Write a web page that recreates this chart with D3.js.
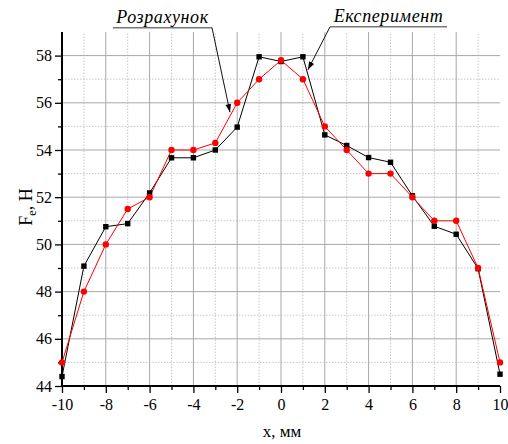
<!DOCTYPE html>
<html>
<head>
<meta charset="utf-8">
<script src="https://cdn.jsdelivr.net/npm/d3@7"></script>
<style>
  body { margin: 0; background: #fff; }
  svg { display: block; }
  svg text { font-family: "Liberation Serif", "Times New Roman", serif; }
</style>
</head>
<body>
<svg id="chart"></svg>
<script>
// x positions, mm
const xs = [-10, -9, -8, -7, -6, -5, -4, -3, -2, -1, 0, 1, 2, 3, 4, 5, 6, 7, 8, 9, 10];
// Експеримент (black squares)
const experiment = [44.4, 49.08, 50.75, 50.88, 52.18, 53.67, 53.67, 54.0, 54.97, 57.95, 57.75,
                    57.95, 54.64, 54.19, 53.68, 53.48, 52.06, 50.77, 50.43, 48.97, 44.5];
// Розрахунок (red circles)
const calculation = [45.0, 48.0, 50.0, 51.5, 52.0, 54.0, 54.0, 54.3, 56.0, 57.0, 57.8,
                     57.0, 55.0, 54.0, 53.0, 53.0, 52.0, 51.0, 51.0, 49.0, 45.0];

const xTicks = [-10, -8, -6, -4, -2, 0, 2, 4, 6, 8, 10];
const yTicks = [44, 46, 48, 50, 52, 54, 56, 58];

// annotation anchors in data coordinates: [text start, elbow, arrow tip]
const notes = [
    { label: "Розрахунок", start: [-7.67, 59.18], elbow: [-3.15, 59.18], tip: [-2.33, 55.6] },
    { label: "Експеримент", start: [7.58, 59.22], elbow: [2.24, 59.22], tip: [1.23, 57.4] },
];

const FONT = '"Liberation Serif", "Times New Roman", serif';
const width = 508, height = 444;
const margin = { top: 32, right: 8, bottom: 58, left: 62 };

const svg = d3.select('#chart')
    .attr('width', width)
    .attr('height', height);

const x = d3.scaleLinear().domain([-10, 10]).range([margin.left, width - margin.right]);
const y = d3.scaleLinear().domain([44, 59]).range([height - margin.bottom, margin.top]);

// Grid: minor dotted, major solid
const grid = svg.append('g');
const xMinor = d3.range(-9, 10, 2);
const yMinor = d3.range(45, 59, 2);

grid.selectAll('.xminor').data(xMinor).join('line')
    .attr('x1', d => x(d)).attr('x2', d => x(d))
    .attr('y1', y(44)).attr('y2', y(59))
    .attr('stroke', '#c8c8c8').attr('stroke-dasharray', '1.5,1.5');
grid.selectAll('.yminor').data(yMinor).join('line')
    .attr('y1', d => y(d)).attr('y2', d => y(d))
    .attr('x1', x(-10)).attr('x2', x(10))
    .attr('stroke', '#c8c8c8').attr('stroke-dasharray', '1.5,1.5');
grid.selectAll('.xmajor').data(xTicks.slice(1, -1)).join('line')
    .attr('x1', d => x(d)).attr('x2', d => x(d))
    .attr('y1', y(44)).attr('y2', y(59))
    .attr('stroke', '#a8a8a8');
grid.selectAll('.ymajor').data(yTicks.slice(1)).join('line')
    .attr('y1', d => y(d)).attr('y2', d => y(d))
    .attr('x1', x(-10)).attr('x2', x(10))
    .attr('stroke', '#a8a8a8');

// Axes
const xAxis = svg.append('g')
    .attr('transform', `translate(0,${y(44)})`)
    .call(d3.axisBottom(x).tickValues(xTicks).tickSize(7).tickPadding(6).tickFormat(d3.format('d')));
svg.append('g')
    .attr('transform', `translate(0,${y(44)})`)
    .call(d3.axisBottom(x).tickValues(xMinor).tickSize(4).tickFormat(''))
    .call(g => g.select('.domain').remove());

const yAxis = svg.append('g')
    .attr('transform', `translate(${x(-10)},0)`)
    .call(d3.axisLeft(y).tickValues(yTicks).tickSize(7).tickPadding(3).tickFormat(d3.format('d')));
svg.append('g')
    .attr('transform', `translate(${x(-10)},0)`)
    .call(d3.axisLeft(y).tickValues(yMinor).tickSize(4).tickFormat(''))
    .call(g => g.select('.domain').remove());

[xAxis, yAxis].forEach(g => {
    g.attr('font-family', FONT).attr('font-size', 16);
    g.select('.domain').attr('stroke', '#000').attr('stroke-width', 2);
    g.selectAll('.tick text').attr('fill', '#000');
});
svg.selectAll('.tick line').attr('stroke', '#000').attr('stroke-width', 1.3);
xAxis.selectAll('.tick text').text(d => d < 0 ? '-' + Math.abs(d) : d);
yAxis.select('.domain').attr('d', `M0,${y(59)}V${y(44)}`);
xAxis.select('.domain').attr('d', `M${x(-10)},0H${x(10)}`);

// Axis titles
svg.append('text')
    .attr('x', 282).attr('y', 437)
    .attr('text-anchor', 'middle')
    .attr('font-size', 17)
    .text('x, мм');

const yt = svg.append('text')
    .attr('transform', `translate(32,${(y(44) + y(59)) / 2 - 2}) rotate(-90)`)
    .attr('text-anchor', 'middle')
    .attr('font-size', 18);
yt.append('tspan').text('F');
yt.append('tspan').attr('font-size', 12).attr('dy', 4).text('e');
yt.append('tspan').attr('dy', -4).text(', H');

// Series
const line = d3.line().x((d, i) => x(xs[i])).y(d => y(d));

svg.append('path').datum(experiment)
    .attr('d', line).attr('fill', 'none').attr('stroke', '#000').attr('stroke-width', 1);
svg.append('path').datum(calculation)
    .attr('d', line).attr('fill', 'none').attr('stroke', '#ff0000').attr('stroke-width', 1);

svg.append('g').selectAll('rect').data(experiment).join('rect')
    .attr('x', (d, i) => x(xs[i]) - 2.7)
    .attr('y', d => y(d) - 2.7)
    .attr('width', 5.4).attr('height', 5.4)
    .attr('fill', '#000');
svg.append('g').selectAll('circle').data(calculation).join('circle')
    .attr('cx', (d, i) => x(xs[i]))
    .attr('cy', d => y(d))
    .attr('r', 3.2)
    .attr('fill', '#ff0000');

// Annotations
const defs = svg.append('defs');
defs.append('marker')
    .attr('id', 'arrow')
    .attr('viewBox', '0 0 10 10')
    .attr('refX', 10).attr('refY', 5)
    .attr('markerWidth', 10).attr('markerHeight', 8)
    .attr('markerUnits', 'userSpaceOnUse')
    .attr('orient', 'auto')
    .append('path').attr('d', 'M0,1.5L10,5L0,8.5Z').attr('fill', '#000');

notes.forEach(n => {
    svg.append('line')
        .attr('x1', x(n.start[0])).attr('y1', y(n.start[1]))
        .attr('x2', x(n.elbow[0])).attr('y2', y(n.elbow[1]))
        .attr('stroke', '#777').attr('stroke-width', 1.5);
    svg.append('line')
        .attr('x1', x(n.elbow[0])).attr('y1', y(n.elbow[1]))
        .attr('x2', x(n.tip[0])).attr('y2', y(n.tip[1]))
        .attr('stroke', '#111').attr('stroke-width', 1)
        .attr('marker-end', 'url(#arrow)');
    const mid = (x(n.start[0]) + x(n.elbow[0])) / 2;
    svg.append('text')
        .attr('x', mid).attr('y', y(n.start[1]) - 5)
        .attr('text-anchor', 'middle')
        .attr('font-style', 'italic')
        .attr('font-size', 18)
        .attr('letter-spacing', 0.6)
        .text(n.label);
});

svg.selectAll('text').style('font-family', FONT);
</script>
</body>
</html>
